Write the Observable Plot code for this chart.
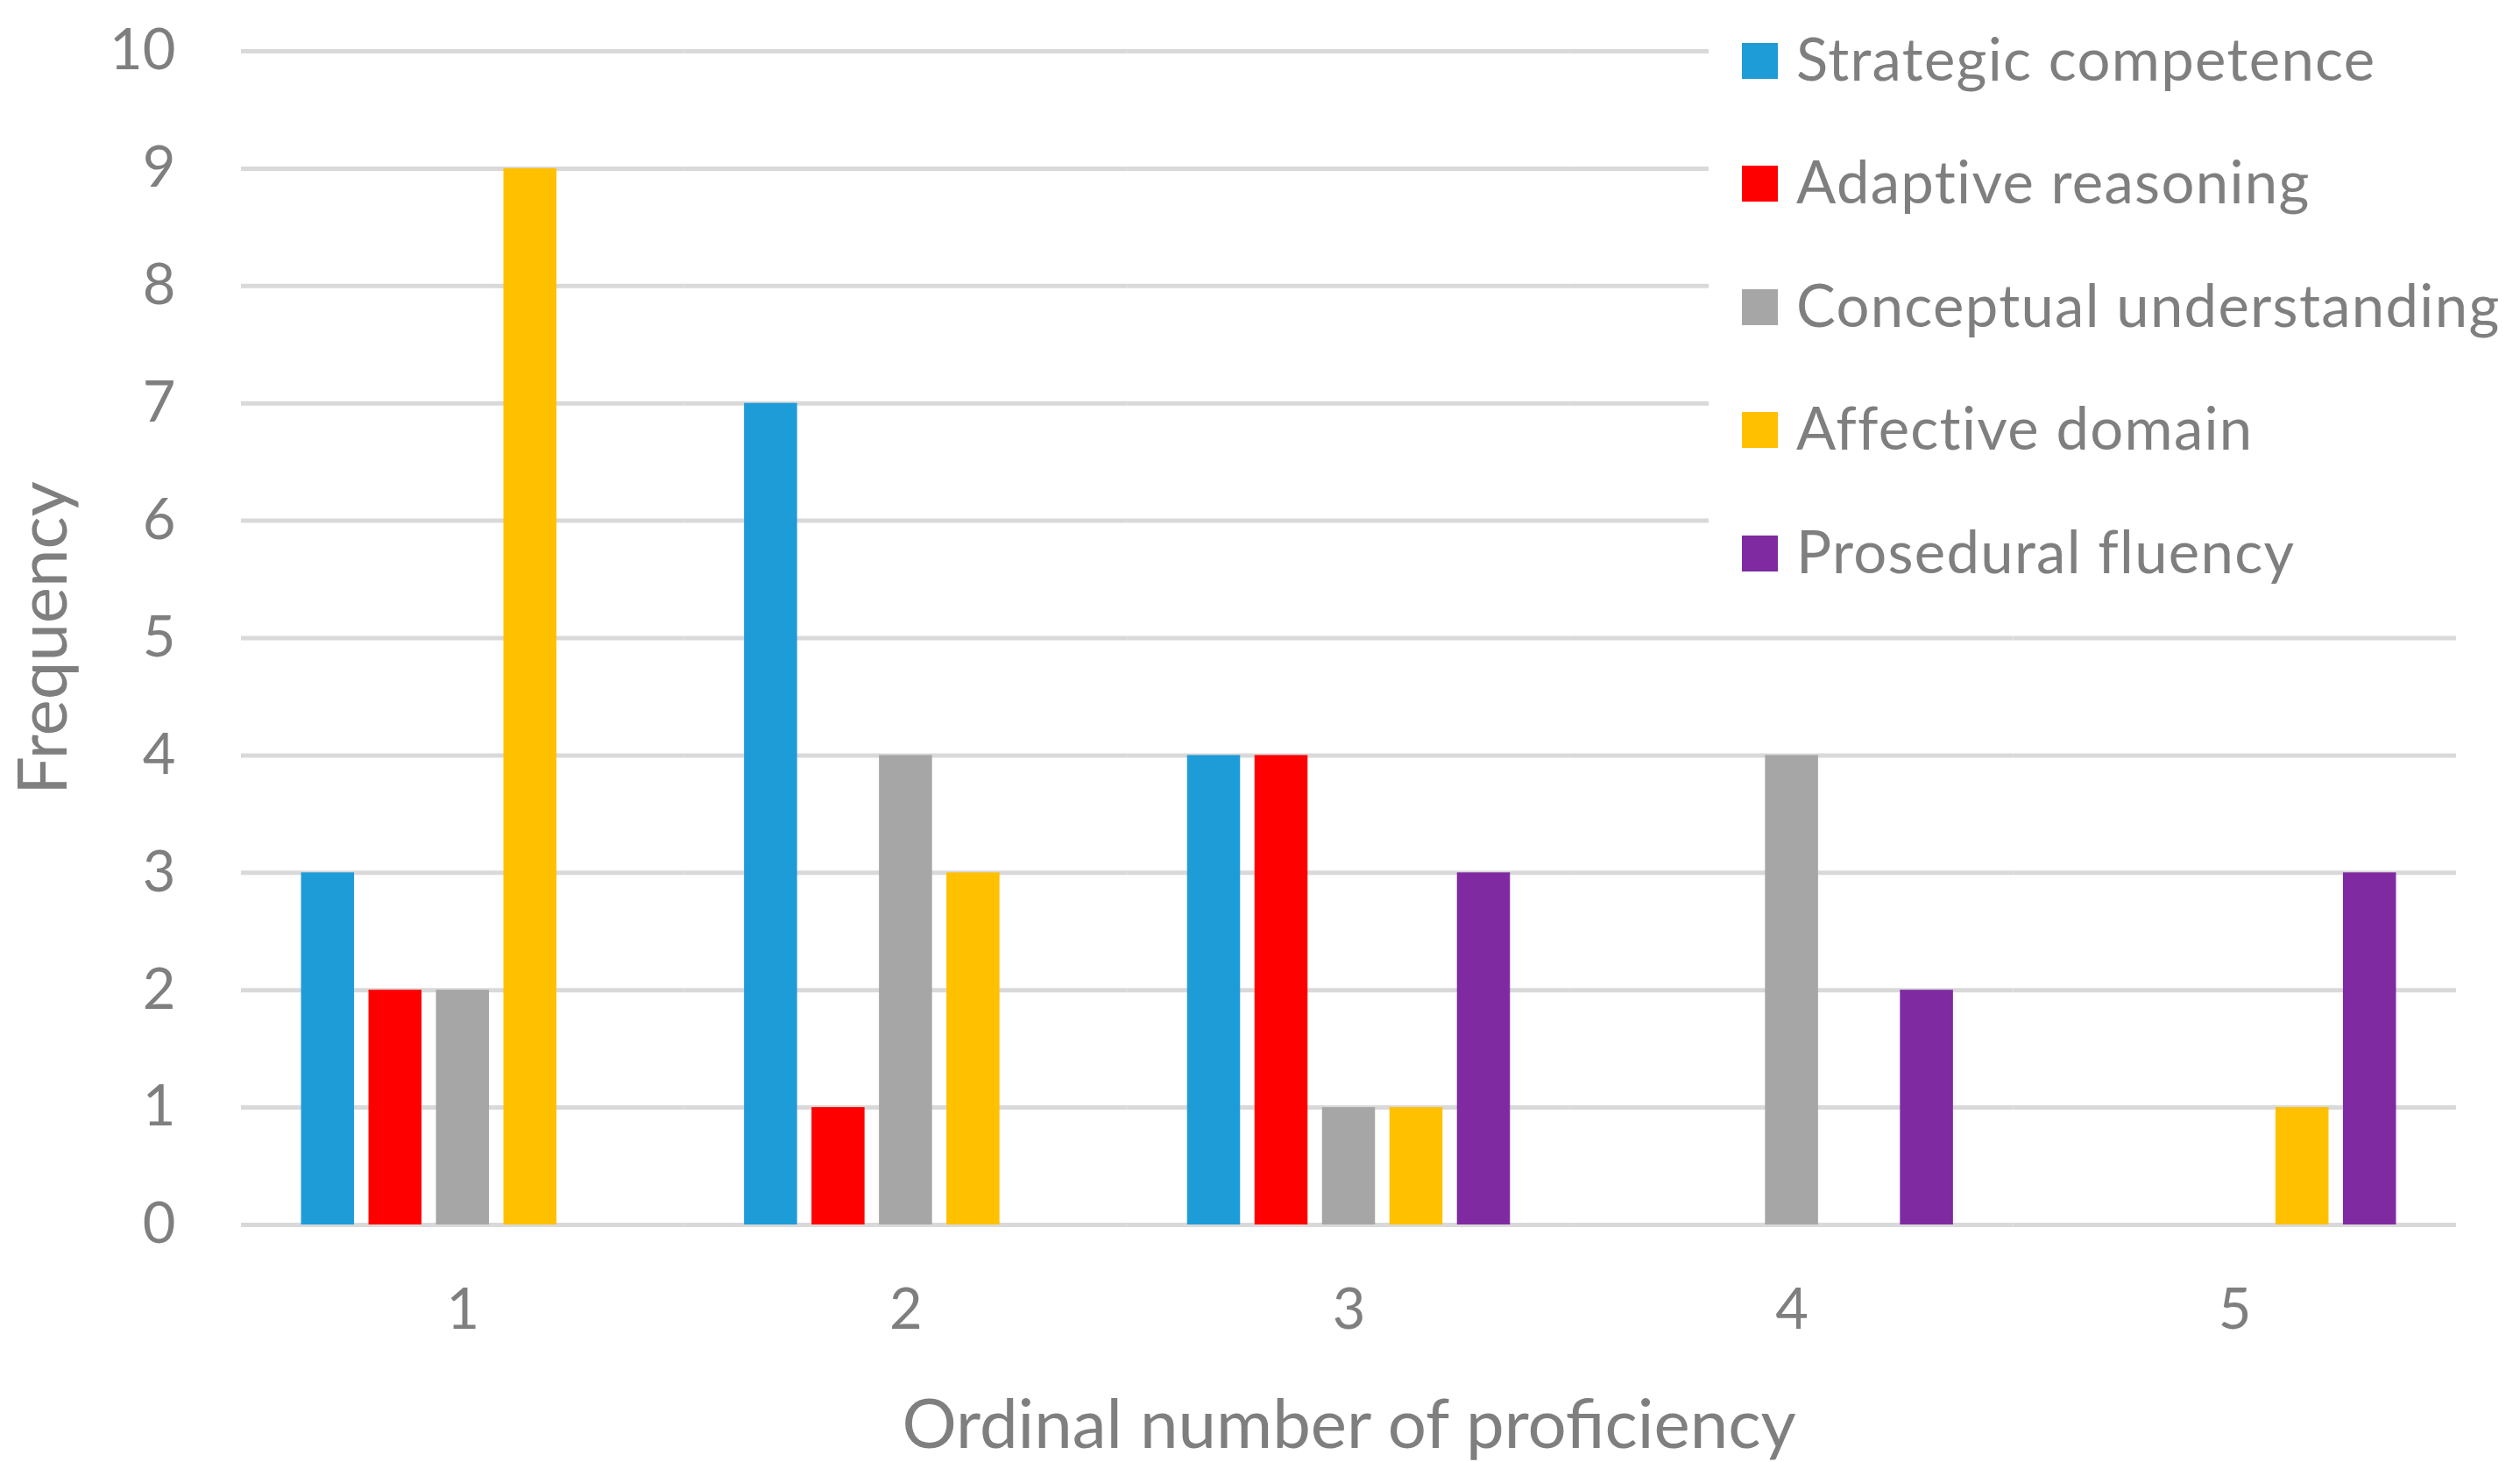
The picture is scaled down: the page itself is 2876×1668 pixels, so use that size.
<!DOCTYPE html>
<html>
<head>
<meta charset="utf-8">
<script src="https://cdn.jsdelivr.net/npm/d3@7"></script>
<script src="https://cdn.jsdelivr.net/npm/@observablehq/plot@0.6"></script>
<style>
  html, body { margin: 0; padding: 0; background: #fff; }
  #wrap { position: relative; width: 2876px; height: 1668px; font-family: Lato, "Open Sans", sans-serif; }
  #legend { position: absolute; left: 1950px; top: 0px; width: 926px; height: 680px; background: #fff; }
  .item { position: absolute; left: 38px; height: 60px; display: flex; align-items: center; }
  .sw { width: 41px; height: 41px; margin-right: 21px; }
  .lab { font-size: 67px; letter-spacing: 1.3px; color: #7f7f7f; white-space: nowrap; line-height: 60px; position: relative; top: -3px; }
  g[aria-label="y-axis label"], g[aria-label="fx-axis label"] { font-size: 78px; }
</style>
</head>
<body>
<div id="wrap"><div id="legend"></div></div>
<script>
const groups = ["1", "2", "3", "4", "5"];
const series = ["Strategic competence", "Adaptive reasoning", "Conceptual understanding", "Affective domain", "Prosedural fluency"];
const colors = ["#1E9CD8", "#FF0000", "#A6A6A6", "#FFC000", "#7F2AA1"];
const strategicCompetence = [3, 7, 4, 0, 0];
const adaptiveReasoning = [2, 1, 4, 0, 0];
const conceptualUnderstanding = [2, 4, 1, 4, 0];
const affectiveDomain = [9, 3, 1, 0, 1];
const proseduralFluency = [0, 0, 3, 2, 3];
const yTicks = [0, 1, 2, 3, 4, 5, 6, 7, 8, 9, 10];

const valuesBySeries = [strategicCompetence, adaptiveReasoning, conceptualUnderstanding, affectiveDomain, proseduralFluency];
const data = [];
series.forEach((s, i) => groups.forEach((g, j) => {
  const v = valuesBySeries[i][j];
  if (v > 0) data.push({group: g, series: s, value: v});
}));

const chart = Plot.plot({
  width: 2876,
  height: 1668,
  marginLeft: 275,
  marginRight: 73,
  marginTop: 58,
  marginBottom: 271,
  style: {fontFamily: "Lato, 'Open Sans', sans-serif", fontSize: "65px", color: "#7f7f7f", background: "#fff"},
  fx: {domain: groups, padding: 0, round: false, label: "Ordinal number of proficiency", labelAnchor: "center", labelOffset: 254, tickSize: 0, tickPadding: 72},
  x: {domain: series, paddingInner: 0.214, paddingOuter: 0.89, round: false, axis: null},
  y: {domain: [0, 10], ticks: yTicks, tickSize: 0, tickPadding: 75, label: "Frequency", labelAnchor: "center", labelArrow: "none", labelOffset: 255},
  color: {domain: series, range: colors},
  marks: [
    Plot.ruleY(yTicks, {stroke: "#d9d9d9", strokeWidth: 5}),
    Plot.barY(data, {fx: "group", x: "series", y: "value", fill: "series"})
  ]
});
document.getElementById("wrap").prepend(chart);

const legend = document.getElementById("legend");
const rowCenters = [69, 209, 350, 490, 631];
series.forEach((s, i) => {
  const item = document.createElement("div");
  item.className = "item";
  item.style.top = (rowCenters[i] - 30) + "px";
  item.innerHTML = `<div class="sw" style="background:${colors[i]}"></div><div class="lab">${s}</div>`;
  legend.appendChild(item);
});
</script>
</body>
</html>
